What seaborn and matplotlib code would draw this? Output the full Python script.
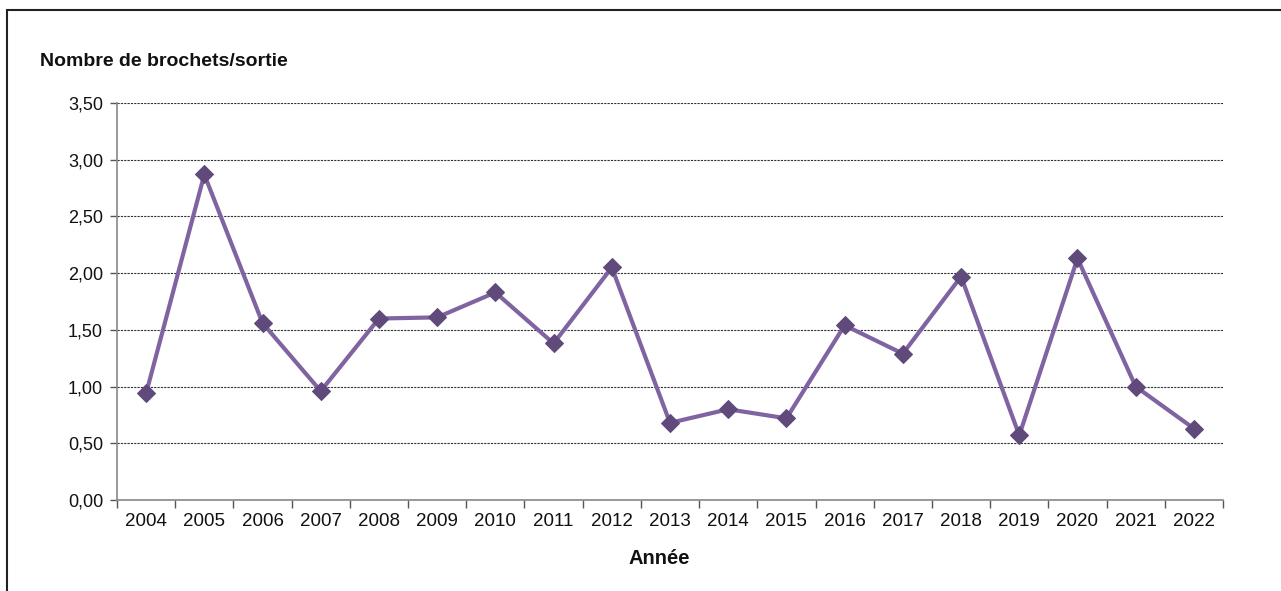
import numpy as np
import pandas as pd
import seaborn as sns
import matplotlib.pyplot as plt
from matplotlib.patches import Rectangle
from matplotlib.ticker import FuncFormatter, FixedLocator

# données
annees = [str(a) for a in range(2004, 2023)]
brochets = [0.94, 2.87, 1.56, 0.96, 1.60, 1.61, 1.83, 1.38, 2.05, 0.68,
            0.80, 0.72, 1.54, 1.29, 1.97, 0.57, 2.13, 1.00, 0.63]
y_ticks = [0.0, 0.5, 1.0, 1.5, 2.0, 2.5, 3.0, 3.5]

sns.set_theme(style="white")
plt.rcParams['font.family'] = ['Liberation Sans', 'DejaVu Sans']

df = pd.DataFrame({"annee": annees, "valeur": brochets})

fig = plt.figure(figsize=(12.81, 5.91), dpi=100)
ax = fig.add_axes([117 / 1281, 91 / 591, (1223 - 117) / 1281, (500 - 103) / 591])

sns.lineplot(data=df, x="annee", y="valeur", ax=ax, color="#8064A2", linewidth=3,
             marker="D", markersize=9, markerfacecolor="#604A7B",
             markeredgecolor="#604A7B", sort=False)

n = len(annees)
ax.set_xlim(-0.5, n - 0.5)
ax.set_ylim(0, 3.5)
ax.set_yticks(y_ticks)
ax.yaxis.set_major_formatter(FuncFormatter(lambda v, p: f"{v:.2f}".replace(".", ",")))
ax.grid(axis="y", color="#333333", linestyle=(0, (2, 1)), linewidth=0.8)
ax.set_axisbelow(True)

ax.set_xticks(range(n))
ax.set_xticklabels(annees)
ax.xaxis.set_minor_locator(FixedLocator(np.arange(-0.5, n, 1)))
ax.tick_params(axis="x", which="major", length=0, pad=9, labelsize=13.5, colors="#111111")
ax.tick_params(axis="x", which="minor", length=6, width=1, color="#555555", direction="out")
ax.tick_params(axis="y", length=5, width=1, color="#555555", direction="out",
               labelsize=13, labelcolor="#111111", pad=5)
ax.xaxis.set_ticks_position("bottom")
ax.yaxis.set_ticks_position("left")

for s in ["top", "right"]:
    ax.spines[s].set_visible(False)
for s in ["left", "bottom"]:
    ax.spines[s].set_color("#888888")
    ax.spines[s].set_linewidth(1.2)

ax.set_xlabel("")
ax.set_ylabel("")
fig.text(40 / 1281, 1 - 61 / 591, "Nombre de brochets/sortie", fontsize=14,
         fontweight="bold", ha="left", va="center", color="#111111")
fig.text(659 / 1281, 1 - 559 / 591, "Année", fontsize=14.5, fontweight="bold",
         ha="center", va="center", color="#111111")

# cadre
fig.patches.append(Rectangle((7 / 1281, -0.1), 1.2, 1 - 10 / 591 + 0.1,
                             transform=fig.transFigure, fill=False,
                             edgecolor="#222222", linewidth=1.5))

fig.savefig("out.png", dpi=100)
